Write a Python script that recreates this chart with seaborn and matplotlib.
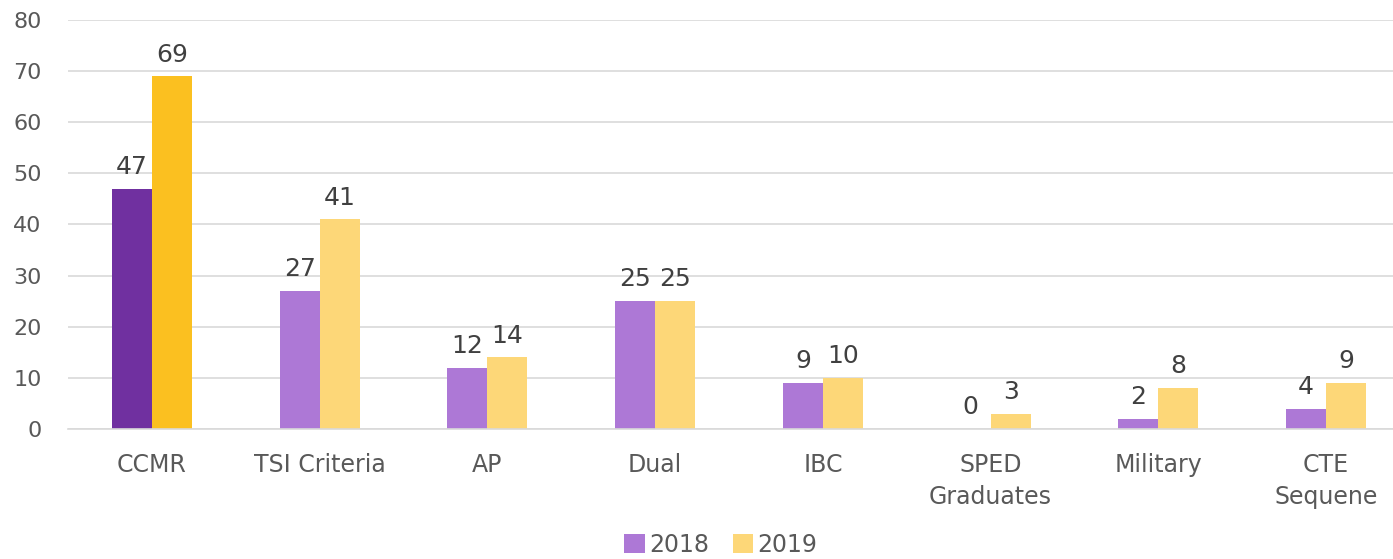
import matplotlib
matplotlib.use("Agg")
import matplotlib.pyplot as plt
import seaborn as sns
import pandas as pd
from matplotlib.patches import Patch

categories = ["CCMR", "TSI Criteria", "AP", "Dual", "IBC", "SPED\nGraduates", "Military", "CTE\nSequene"]
values_2018 = [47, 27, 12, 25, 9, 0, 2, 4]
values_2019 = [69, 41, 14, 25, 10, 3, 8, 9]
series = ["2018", "2019"]

df = pd.DataFrame({
    "category": categories * 2,
    "year": ["2018"] * len(categories) + ["2019"] * len(categories),
    "value": values_2018 + values_2019,
})

sns.set_theme(style="white")
plt.rcParams['font.family'] = ['DejaVu Sans']

text_color = "#595959"
light = {"2018": "#AD78D6", "2019": "#FDD778"}
dark = {"2018": "#7030A0", "2019": "#FBC020"}
FS = 16

fig = plt.figure(figsize=(13.93, 5.59), dpi=100)
ax = fig.add_axes([68 / 1393, (559 - 429) / 559, (1410 - 68) / 1393, 409 / 559])

sns.barplot(data=df, x="category", y="value", hue="year", order=categories,
            hue_order=series, palette=light, width=0.476, saturation=1,
            ax=ax, legend=False)

for ci, cont in enumerate(ax.containers):
    yr = series[ci]
    for j, p in enumerate(cont.patches):
        p.set_edgecolor("none")
        p.set_facecolor(dark[yr] if j == 0 else light[yr])
    vals = values_2018 if yr == "2018" else values_2019
    ax.bar_label(cont, labels=[str(v) for v in vals],
                 padding=7, fontsize=18, color="#404040")

ax.set_ylim(0, 80)
ax.set_xlim(-0.5, 7.5)
ax.set_yticks(range(0, 81, 10))
ax.yaxis.grid(True, color="#D9D9D9", linewidth=1.2)
ax.set_axisbelow(True)
for s in ["top", "right", "left"]:
    ax.spines[s].set_visible(False)
ax.spines["bottom"].set_color("#D9D9D9")
ax.spines["bottom"].set_linewidth(1.2)
ax.set_xlabel("")
ax.set_ylabel("")
ax.tick_params(axis="y", labelsize=FS, labelcolor=text_color, length=0, pad=19)
ax.tick_params(axis="x", labelsize=17, labelcolor=text_color, length=0, pad=17)
for lbl in ax.get_xticklabels():
    lbl.set_linespacing(1.45)

handles = [Patch(facecolor=light[s], edgecolor="none") for s in series]
fig.legend(handles, series, loc="center", bbox_to_anchor=(721 / 1393, 1 - 545 / 559),
           ncol=2, frameon=False, fontsize=17, labelcolor=text_color,
           handlelength=0.85, handleheight=0.85, handletextpad=0.2, columnspacing=1.0)

fig.savefig("out.png", dpi=100)
